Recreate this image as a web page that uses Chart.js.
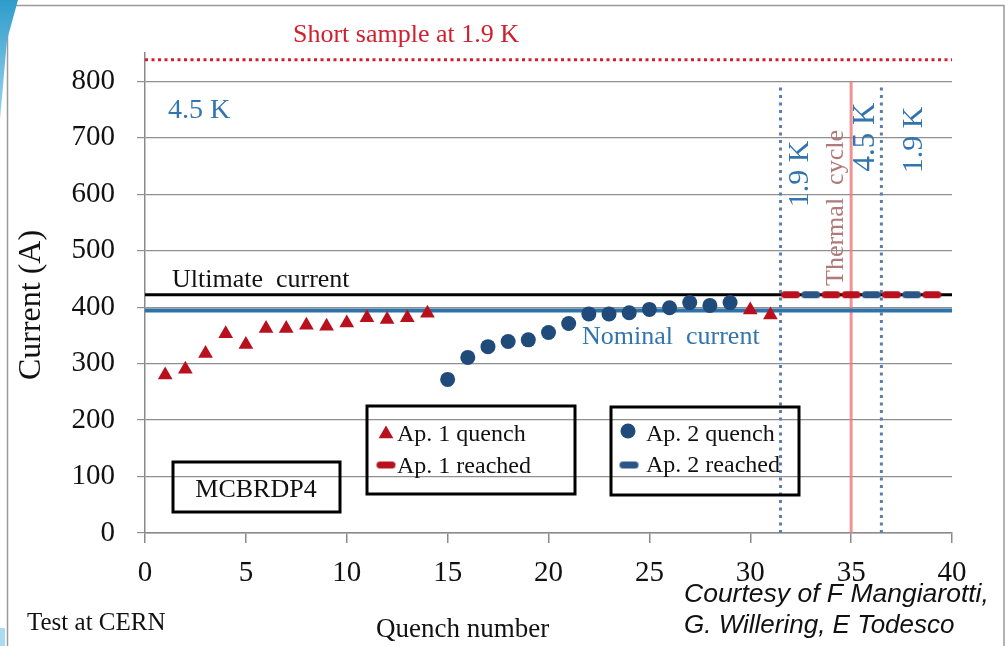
<!DOCTYPE html>
<html>
<head>
<meta charset="utf-8">
<title>MCBRDP4 training</title>
<script src="https://cdn.jsdelivr.net/npm/chart.js@4.4.1/dist/chart.umd.min.js"></script>
<style>
  html, body { margin: 0; padding: 0; background: #ffffff; }
  #wrap { position: relative; width: 1008px; height: 646px; }
</style>
</head>
<body>
<div id="wrap"><canvas id="c" width="1008" height="646"></canvas></div>
<script>
// Quench training of MCBRDP4, aperture 1 and aperture 2
const ap1QuenchNo = [1, 2, 3, 4, 5, 6, 7, 8, 9, 10, 11, 12, 13, 14, 30, 31];
const ap1Quench   = [280, 290, 318, 353, 334, 362, 362, 368, 366, 372, 381, 378, 381, 389, 395, 386];
const ap2QuenchNo = [15, 16, 17, 18, 19, 20, 21, 22, 23, 24, 25, 26, 27, 28, 29];
const ap2Quench   = [272, 311, 330, 339, 342, 355, 371, 388, 388, 390, 396, 399, 408, 403, 408];
const ap1ReachedNo = [32, 34, 35, 37, 39];
const ap2ReachedNo = [33, 36, 38];
const reachedCurrent = 422;

// Reference currents (A)
const ultimateCurrent = 422;
const nominalCurrent = 394;
const shortSample = 838;

// Temperature changes / thermal cycle (quench number)
const tempChangeAt = [31.5, 36.5];
const thermalCycleAt = 35;

const xTicks = [0, 5, 10, 15, 20, 25, 30, 35, 40];
const yTicks = [0, 100, 200, 300, 400, 500, 600, 700, 800];

const SERIF = '"Liberation Serif", "Times New Roman", serif';
const SANS = '"Liberation Sans", Arial, sans-serif';

const RED = '#B8101C';
const NAVY = '#1F4A7A';
const NAVY_DASH = '#2A5585';
const BLUE_TXT = '#3275AE';

function pts(xs, ys) { return xs.map((x, i) => ({ x: x, y: Array.isArray(ys) ? ys[i] : ys })); }
function hLine(y) { return [{ x: xTicks[0], y: y }, { x: xTicks[xTicks.length - 1], y: y }]; }
function vLine(x, top) { return [{ x: x, y: 0 }, { x: x, y: top }]; }

// rounded dash used as the "reached" marker
function dashMark(color) {
  const c = document.createElement('canvas');
  c.width = 21; c.height = 9;
  const g = c.getContext('2d');
  g.fillStyle = color;
  g.beginPath();
  g.roundRect(1, 1, 19, 7, 3.5);
  g.fill();
  return c;
}
const ap1Dash = dashMark(RED);
const ap2Dash = dashMark(NAVY_DASH);

const datasets = [
  { label: 'Ap. 1 quench', data: pts(ap1QuenchNo, ap1Quench), showLine: false,
    pointStyle: 'triangle', pointRadius: 8.5, backgroundColor: RED, borderColor: RED, borderWidth: 0 },
  { label: 'Ap. 2 quench', data: pts(ap2QuenchNo, ap2Quench), showLine: false,
    pointStyle: 'circle', pointRadius: 7.5, backgroundColor: NAVY, borderColor: NAVY, borderWidth: 0 },
  { label: 'Ap. 1 reached', data: pts(ap1ReachedNo, reachedCurrent), showLine: false,
    pointStyle: ap1Dash, pointRadius: 9 },
  { label: 'Ap. 2 reached', data: pts(ap2ReachedNo, reachedCurrent), showLine: false,
    pointStyle: ap2Dash, pointRadius: 9 },
  { label: 'Ultimate current', data: hLine(ultimateCurrent), showLine: true, pointRadius: 0,
    borderColor: '#000000', borderWidth: 3 },
  { label: 'Nominal current', data: hLine(nominalCurrent), showLine: true, pointRadius: 0,
    borderColor: '#2E72A8', borderWidth: 4 },
  { label: 'Thermal cycle', data: vLine(thermalCycleAt, 800), showLine: true, pointRadius: 0,
    borderColor: 'rgba(238,120,122,0.8)', borderWidth: 3 },
  { label: 'T change 1', data: vLine(tempChangeAt[0], 790), showLine: true, pointRadius: 0,
    borderColor: '#5A7FB0', borderWidth: 3, borderDash: [3, 4.5] },
  { label: 'T change 2', data: vLine(tempChangeAt[1], 790), showLine: true, pointRadius: 0,
    borderColor: '#5A7FB0', borderWidth: 3, borderDash: [3, 4.5] },
  { label: 'Short sample', data: hLine(shortSample), showLine: true, pointRadius: 0,
    borderColor: '#D61F2E', borderWidth: 3, borderDash: [3, 3.5] }
];

function text(ctx, str, x, y, font, color, align, rot) {
  ctx.save();
  ctx.font = font;
  ctx.fillStyle = color;
  ctx.textAlign = align || 'left';
  ctx.textBaseline = rot ? 'middle' : 'alphabetic';
  ctx.translate(x, y);
  if (rot) ctx.rotate(rot);
  ctx.fillText(str, 0, 0);
  ctx.restore();
}

const decor = {
  id: 'decor',
  beforeDraw(chart) {
    const ctx = chart.ctx;
    ctx.save();
    ctx.fillStyle = '#ffffff';
    ctx.fillRect(0, 0, chart.width, chart.height);
    // slide frame
    ctx.strokeStyle = '#9a9a9a';
    ctx.lineWidth = 1.5;
    ctx.beginPath();
    ctx.moveTo(7.5, 646); ctx.lineTo(7.5, 5.5); ctx.lineTo(1004, 5.5); ctx.lineTo(1004, 646);
    ctx.stroke();
    // blue corner wedge
    const g = ctx.createLinearGradient(0, 0, 0, 120);
    g.addColorStop(0, '#2E9CCB');
    g.addColorStop(1, '#9ED6EE');
    ctx.fillStyle = g;
    ctx.beginPath();
    ctx.moveTo(0, 0); ctx.lineTo(18, 0); ctx.lineTo(7, 40); ctx.lineTo(0, 120); ctx.closePath();
    ctx.fill();
    ctx.fillStyle = '#A9DCF0';
    ctx.fillRect(0, 628, 5, 18);
    ctx.restore();
  },
  afterDraw(chart) {
    const ctx = chart.ctx;
    const xs = chart.scales.x, ys = chart.scales.y;
    const HALF = -Math.PI / 2;

    text(ctx, 'Short sample at 1.9 K', 293, 42, '26px ' + SERIF, '#D0202E');
    text(ctx, '4.5 K', 168, 118, '28px ' + SERIF, BLUE_TXT);
    text(ctx, 'Ultimate  current', 172, ys.getPixelForValue(ultimateCurrent) - 8, '26px ' + SERIF, '#111111');
    text(ctx, 'Nominal  current', 582, ys.getPixelForValue(nominalCurrent) + 33, '26px ' + SERIF, BLUE_TXT);

    text(ctx, '1.9 K', xs.getPixelForValue(tempChangeAt[0]) + 20, 174, '30px ' + SERIF, BLUE_TXT, 'center', HALF);
    text(ctx, 'Thermal  cycle', xs.getPixelForValue(thermalCycleAt) - 15, 208, '26px ' + SERIF, '#B07A7A', 'center', HALF);
    text(ctx, '4.5 K', xs.getPixelForValue(thermalCycleAt) + 15, 137, '31px ' + SERIF, BLUE_TXT, 'center', HALF);
    text(ctx, '1.9 K', xs.getPixelForValue(tempChangeAt[1]) + 33, 140, '30px ' + SERIF, BLUE_TXT, 'center', HALF);

    // axis titles and notes
    text(ctx, 'Current (A)', 32, 305, '32px ' + SERIF, '#111111', 'center', HALF);
    text(ctx, 'Quench number', 376, 637, '27px ' + SERIF, '#111111');
    text(ctx, 'Test at CERN', 27, 630, '25px ' + SERIF, '#111111');
    text(ctx, 'Courtesy of F Mangiarotti,', 684, 602, 'italic 26.5px ' + SANS, '#111111');
    text(ctx, 'G. Willering, E Todesco', 684, 633, 'italic 26px ' + SANS, '#111111');

    // boxes
    ctx.save();
    ctx.strokeStyle = '#000000';
    ctx.lineWidth = 3;
    ctx.strokeRect(173, 462, 167, 50);
    ctx.strokeRect(367, 406, 208, 88);
    ctx.strokeRect(611, 407, 188, 88);
    ctx.restore();
    text(ctx, 'MCBRDP4', 256, 497, '26px ' + SERIF, '#111111', 'center');

    // legend entries, drawn with each dataset's own marker
    const metaStyle = (i) => chart.getDatasetMeta(i).data[0].options;
    const entry = (i, mx, my, tx, ty) => {
      const o = metaStyle(i);
      ctx.save();
      ctx.fillStyle = o.backgroundColor;
      ctx.strokeStyle = o.borderColor;
      Chart.helpers.drawPoint(ctx, { pointStyle: o.pointStyle, radius: o.radius, rotation: 0, borderWidth: 0 }, mx, my);
      ctx.restore();
      text(ctx, chart.data.datasets[i].label, tx, ty, '24px ' + SERIF, '#111111');
    };
    entry(0, 386, 434, 397, 441);
    entry(2, 386, 465, 397, 473);
    entry(1, 628, 431, 646, 441);
    entry(3, 629, 465, 646, 472);
  }
};

new Chart(document.getElementById('c'), {
  type: 'scatter',
  data: { datasets: datasets },
  plugins: [decor],
  options: {
    responsive: false,
    devicePixelRatio: 1,
    animation: false,
    layout: { padding: { top: 53, right: 56, left: 0, bottom: 0 } },
    plugins: { legend: { display: false }, tooltip: { enabled: false } },
    scales: {
      x: {
        type: 'linear', min: xTicks[0], max: xTicks[xTicks.length - 1],
        afterFit: (s) => { s.height = 113; },
        afterBuildTicks: (s) => { s.ticks = xTicks.map(v => ({ value: v })); },
        ticks: { font: { family: SERIF, size: 29 }, color: '#111111', padding: 13 },
        grid: { drawOnChartArea: false, drawTicks: true, tickLength: 10, color: '#8a8a8a', lineWidth: 1.5 },
        border: { display: true, color: '#8a8a8a', width: 1.5 }
      },
      y: {
        type: 'linear', min: 0, max: 850,
        afterFit: (s) => { s.width = 145; },
        afterBuildTicks: (s) => { s.ticks = yTicks.map(v => ({ value: v })); },
        ticks: { font: { family: SERIF, size: 29 }, color: '#111111', padding: 22 },
        grid: { color: '#8f8f8f', lineWidth: 1.2, tickLength: 8 },
        border: { display: true, color: '#8a8a8a', width: 1.5 }
      }
    }
  }
});
</script>
</body>
</html>
